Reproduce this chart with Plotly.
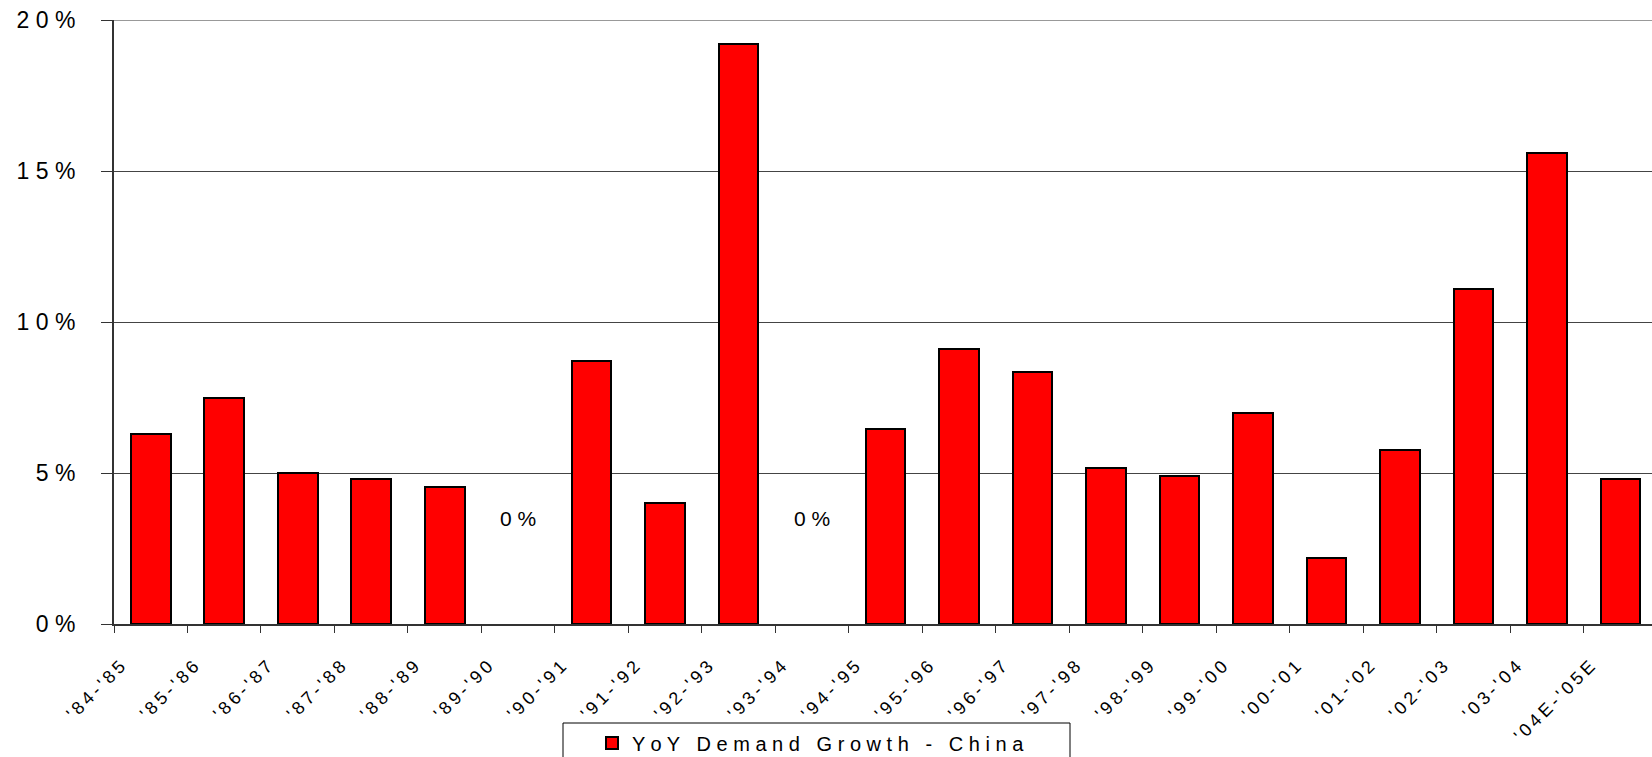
import plotly.graph_objects as go

# ---- data ----
seasons = ["'84-'85", "'85-'86", "'86-'87", "'87-'88", "'88-'89", "'89-'90",
           "'90-'91", "'91-'92", "'92-'93", "'93-'94", "'94-'95", "'95-'96",
           "'96-'97", "'97-'98", "'98-'99", "'99-'00", "'00-'01", "'01-'02",
           "'02-'03", "'03-'04", "'04E-'05E"]
growth_pct = [6.3, 7.5, 5.0, 4.8, 4.55, 0.0, 8.7, 4.0, 19.2, 0.0, 6.45, 9.1,
              8.35, 5.15, 4.9, 7.0, 2.2, 5.75, 11.1, 15.6, 4.8]
y_ticks = [0, 5, 10, 15, 20]
y_tick_text = ["0 %", "5 %", "1 0 %", "1 5 %", "2 0 %"]
series_name = "YoY Demand Growth - China"

W, H = 1652, 757
ML, MR, MT, MB = 114, 0, 20, 133
PW = W - ML - MR
PH = H - MT - MB
CAT_PX = 73.48

FONT = "Liberation Sans, Arial, sans-serif"
THIN = "\u2009"

def spaced(s, sep):
    return sep.join(list(s))

x_pos = [i + 0.5 for i in range(len(seasons))]

fig = go.Figure()
fig.add_trace(go.Bar(
    x=x_pos, y=growth_pct, width=0.54,
    name=spaced(series_name, " "),
    marker=dict(color="#ff0000",
                line=dict(color="#000000",
                          width=[2 if v != 0 else 0 for v in growth_pct])),
    hoverinfo="x+y",
))

for xp, v in zip(x_pos, growth_pct):
    if v == 0:
        fig.add_annotation(x=xp, y=3.5, text="0 %", showarrow=False,
                           font=dict(family=FONT, size=21, color="#000"),
                           xanchor="center", yanchor="middle")

def px_to_paper_x(px):
    return (px - ML) / PW

def px_to_paper_y(py):
    return (H - MB - py) / PH

# top border line at 20%
fig.add_shape(type="line", xref="paper", yref="y", x0=0, x1=1, y0=20, y1=20,
              line=dict(color="#999999", width=2))
# legend frame
fig.add_shape(type="rect", xref="paper", yref="paper",
              x0=px_to_paper_x(563), x1=px_to_paper_x(1070),
              y0=px_to_paper_y(723), y1=px_to_paper_y(790),
              line=dict(color="#000000", width=1), fillcolor="rgba(0,0,0,0)")

fig.update_layout(
    width=W, height=H,
    margin=dict(l=ML, r=MR, t=MT, b=MB, autoexpand=False),
    plot_bgcolor="white", paper_bgcolor="white",
    font=dict(family=FONT, color="#000"),
    bargap=0,
    showlegend=True,
    legend=dict(x=px_to_paper_x(592), y=px_to_paper_y(743),
                xanchor="left", yanchor="middle",
                font=dict(family=FONT, size=20, color="#000"),
                bgcolor="rgba(0,0,0,0)", borderwidth=0),
    xaxis=dict(
        range=[0, PW / CAT_PX],
        tickmode="array",
        tickvals=list(range(len(seasons))),
        ticktext=[spaced(s, THIN) for s in seasons],
        tickangle=-45,
        tickfont=dict(family=FONT, size=18, color="#000"),
        ticklabelshift=6, ticklabelstandoff=16,
        showline=True, linecolor="#333333", linewidth=2,
        ticks="outside", ticklen=7, tickcolor="#333333", tickwidth=1,
        showgrid=False, zeroline=False,
    ),
    yaxis=dict(
        range=[0, 20],
        tickmode="array",
        tickvals=y_ticks,
        ticktext=y_tick_text,
        tickfont=dict(family=FONT, size=23, color="#000"),
        ticklabelstandoff=21,
        showline=True, linecolor="#333333", linewidth=2,
        ticks="outside", ticklen=11, tickcolor="#333333", tickwidth=1,
        showgrid=True, gridcolor="#444444", gridwidth=1,
        zeroline=False,
    ),
)

fig.write_html("out.html")
